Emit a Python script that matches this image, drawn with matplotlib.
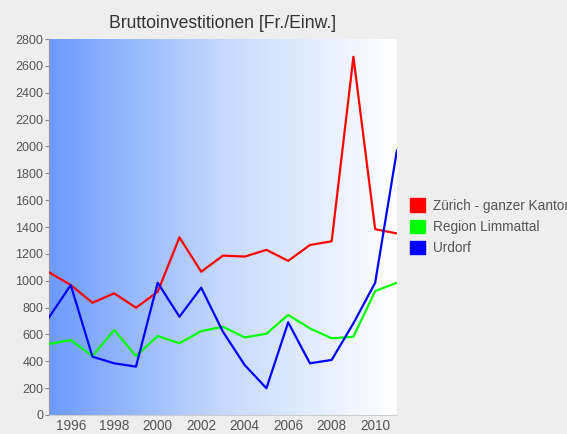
# Bruttoinvestitionen line chart with gradient background
import numpy as np
import matplotlib.pyplot as plt
from matplotlib.colors import LinearSegmentedColormap
from matplotlib.patches import Rectangle

years = list(range(1995, 2012))
zuerich = [1063, 968, 836, 906, 799, 918, 1323, 1067, 1187, 1180, 1230, 1148, 1266, 1294, 2668, 1384, 1352]
limmattal = [529, 558, 439, 633, 439, 588, 534, 625, 657, 578, 605, 745, 645, 571, 583, 923, 985]
urdorf = [727, 968, 434, 385, 360, 985, 732, 948, 620, 372, 199, 690, 385, 410, 683, 985, 1970]
labels = ["Zürich - ganzer Kanton", "Region Limmattal", "Urdorf"]
colors = ["#ff0000", "#00ff00", "#0000ff"]

plt.rcParams['font.family'] = ['Liberation Sans', 'DejaVu Sans']

fig = plt.figure(figsize=(5.67, 4.34), dpi=100, facecolor="#eeeeee")
ax = fig.add_axes([0.0864, 0.0438, 0.6136, 0.8662])
ax.set_facecolor("#eeeeee")

# gradient background, blue on the left fading to white
cmap = LinearSegmentedColormap.from_list("bg", ["#6d9bfb", "#c6d9fc", "#ffffff"])
grad = np.linspace(0, 1, 256).reshape(1, -1)
ax.imshow(grad, cmap=cmap, aspect="auto", extent=[0, 1, 0, 1],
          transform=ax.transAxes, zorder=0)

for vals, lab, c in zip([zuerich, limmattal, urdorf], labels, colors):
    ax.plot(years, vals, color=c, lw=1.6, label=lab, zorder=3)

ax.set_xlim(1995, 2011)
ax.set_ylim(0, 2800)
ax.set_yticks(range(0, 2801, 200))
ax.set_xticks(range(1996, 2011, 2))
ax.tick_params(axis="y", colors="#888888", labelcolor="#555555", labelsize=9, length=3, pad=1)
ax.tick_params(axis="x", length=0, labelcolor="#555555", labelsize=9.8, pad=3)
for s in ["top", "right"]:
    ax.spines[s].set_visible(False)
ax.spines["left"].set_color("#999999")
ax.spines["bottom"].set_color("#cccccc")

ax.set_title("Bruttoinvestitionen [Fr./Einw.]", fontsize=12.7, color="#333333", pad=8)

handles = [Rectangle((0, 0), 1, 1, color=c) for c in colors]
fig.legend(handles, labels, loc="upper left", bbox_to_anchor=(0.702, 0.571),
           frameon=False, fontsize=9.8, labelcolor="#555555",
           handlelength=1.1, handleheight=1.1, handletextpad=0.55, labelspacing=0.52)

plt.savefig("out.png", dpi=100, facecolor=fig.get_facecolor())
plt.close()
